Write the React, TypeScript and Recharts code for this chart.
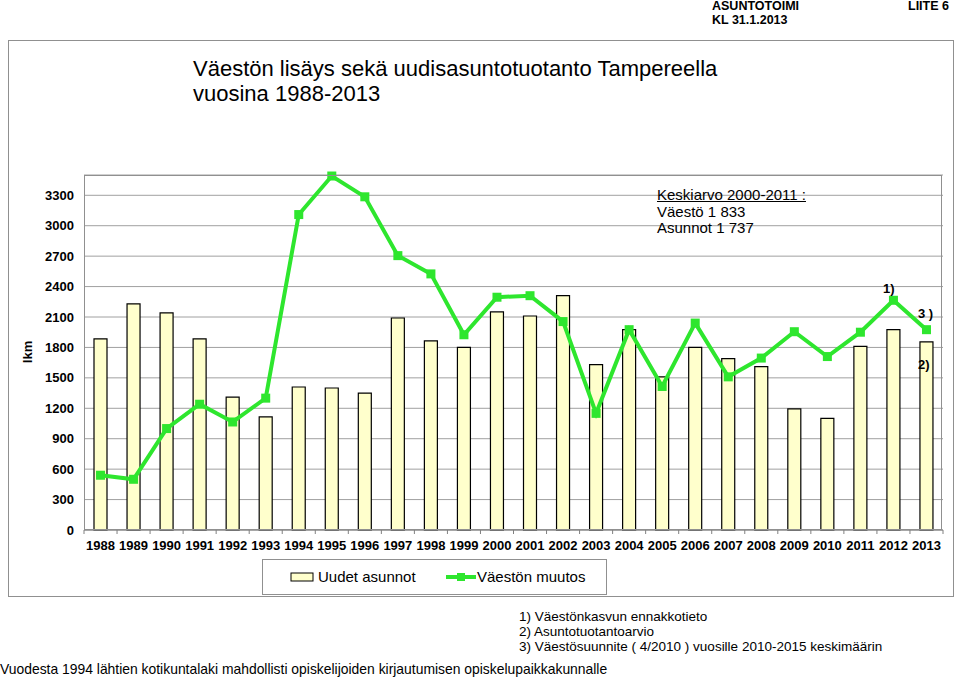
import React from 'react';
import { ComposedChart, Bar, Line, XAxis, YAxis, CartesianGrid } from 'recharts';

const years = [
  '1988', '1989', '1990', '1991', '1992', '1993', '1994', '1995', '1996', '1997', '1998', '1999', '2000',
  '2001', '2002', '2003', '2004', '2005', '2006', '2007', '2008', '2009', '2010', '2011', '2012', '2013',
];
const newDwellings = [
  1885, 2230, 2140, 1885, 1310, 1115, 1410, 1400, 1350, 2090, 1865, 1800, 2150,
  2110, 2310, 1630, 1975, 1510, 1800, 1690, 1610, 1195, 1100, 1810, 1975, 1855,
];
const populationChange = [
  540, 500, 1000, 1240, 1065, 1300, 3110, 3490, 3285, 2705, 2525, 1925, 2295,
  2310, 2055, 1150, 1975, 1415, 2040, 1510, 1695, 1955, 1710, 1950, 2265, 1975,
];
const yTicks = [0, 300, 600, 900, 1200, 1500, 1800, 2100, 2400, 2700, 3000, 3300];

const data = years.map((year, i) => ({
  year,
  asunnot: newDwellings[i],
  vaesto: populationChange[i],
}));

const FONT = '"Liberation Sans", Arial, Helvetica, sans-serif';
const GREEN = '#2ee62e';
const BAR_FILL = '#ffffcc';
const GRID = '#a0a0a0';

const HALF_BAND = (943 - 84) / years.length / 2;

const XTick = ({ x, y, payload, index }: any) => (
  <g>
    <line x1={x - HALF_BAND} x2={x - HALF_BAND} y1={y - 8} y2={y - 4} stroke="#808080" />
    {index === years.length - 1 && (
      <line x1={x + HALF_BAND} x2={x + HALF_BAND} y1={y - 8} y2={y - 4} stroke="#808080" />
    )}
    <text x={x} y={y + 12} textAnchor="middle" fontSize={13} fontWeight="bold" fill="#000" fontFamily={FONT}>
      {payload.value}
    </text>
  </g>
);

const SquareDot = ({ cx, cy }: any) => (
  <rect x={cx - 4.5} y={cy - 4.5} width={9} height={9} fill={GREEN} />
);

const abs = (left: number, top: number, extra: React.CSSProperties = {}): React.CSSProperties => ({
  position: 'absolute',
  left,
  top,
  whiteSpace: 'nowrap',
  ...extra,
});

export default function App() {
  return (
    <div style={{ position: 'absolute', left: 0, top: 0, width: 959, height: 679, background: '#fff', fontFamily: FONT, color: '#000' }}>
      <div style={abs(712, 0, { fontSize: 12.5, fontWeight: 'bold', lineHeight: '13px' })}>ASUNTOTOIMI</div>
      <div style={abs(712, 14, { fontSize: 12.5, fontWeight: 'bold', lineHeight: '13px' })}>KL 31.1.2013</div>
      <div style={abs(908, 0, { fontSize: 12.5, fontWeight: 'bold', lineHeight: '13px' })}>LIITE 6</div>

      <div style={abs(8, 40, { width: 944, height: 555, border: '1px solid #909090' })} />

      <div style={abs(193, 56, { fontSize: 22, lineHeight: '25px' })}>
        Väestön lisäys sekä uudisasuntotuotanto Tampereella
        <br />
        vuosina 1988-2013
      </div>

      <div style={abs(0, 0)}>
        <ComposedChart
          width={959}
          height={679}
          data={data}
          margin={{ top: 175, right: 16, bottom: 119, left: 0 }}
        >
          <CartesianGrid vertical={false} stroke={GRID} />
          <XAxis
            dataKey="year"
            axisLine={{ stroke: '#808080' }}
            tickLine={false}
            tick={<XTick />}
            interval={0}
            height={30}
          />
          <YAxis
            domain={[0, 3500]}
            ticks={yTicks}
            axisLine={false}
            tickLine={false}
            width={84}
            tick={{ fontSize: 13, fontWeight: 'bold', fill: '#000', fontFamily: FONT }}
            tickMargin={4}
          />
          <Bar dataKey="asunnot" fill={BAR_FILL} stroke="#000" strokeWidth={1.2} barSize={13} isAnimationActive={false} />
          <Line
            dataKey="vaesto"
            stroke={GREEN}
            strokeWidth={4}
            dot={<SquareDot />}
            activeDot={false}
            isAnimationActive={false}
          />
        </ComposedChart>
      </div>

      <div style={abs(84, 175, { width: 858, height: 355, border: '1px solid #909090', boxSizing: 'border-box', pointerEvents: 'none' })} />

      <div style={abs(20, 352, { fontSize: 13, fontWeight: 'bold', transform: 'translate(-50%, -50%) rotate(-90deg)', left: 27 })}>lkm</div>

      <div style={abs(657, 187, { fontSize: 15, lineHeight: '16.5px' })}>
        <span style={{ textDecoration: 'underline' }}>Keskiarvo 2000-2011 :</span>
        <br />
        Väestö 1 833
        <br />
        Asunnot 1 737
      </div>

      <div style={abs(883, 281, { fontSize: 13, fontWeight: 'bold' })}>1)</div>
      <div style={abs(918, 306, { fontSize: 13, fontWeight: 'bold' })}>3 )</div>
      <div style={abs(918, 357, { fontSize: 13, fontWeight: 'bold' })}>2)</div>

      <div style={abs(262, 559, { width: 345, height: 36, border: '1px solid #909090', boxSizing: 'border-box', background: '#fff' })}>
        <svg width={345} height={36} style={{ position: 'absolute', left: 0, top: 0 }}>
          <rect x={28} y={13} width={22} height={8} fill={BAR_FILL} stroke="#000" />
          <line x1={183} x2={213} y1={17} y2={17} stroke={GREEN} strokeWidth={4} />
          <rect x={194} y={13} width={8} height={8} fill={GREEN} />
        </svg>
        <div style={abs(55, 8, { fontSize: 15 })}>Uudet asunnot</div>
        <div style={abs(214, 8, { fontSize: 15 })}>Väestön muutos</div>
      </div>

      <div style={abs(519, 609, { fontSize: 13.5, lineHeight: '15px' })}>
        1) Väestönkasvun ennakkotieto
        <br />
        2) Asuntotuotantoarvio
        <br />
        3) Väestösuunnite ( 4/2010 ) vuosille 2010-2015 keskimäärin
      </div>
      <div style={abs(0, 661, { fontSize: 13.9 })}>
        Vuodesta 1994 lähtien kotikuntalaki mahdollisti opiskelijoiden kirjautumisen opiskelupaikkakunnalle
      </div>
    </div>
  );
}
